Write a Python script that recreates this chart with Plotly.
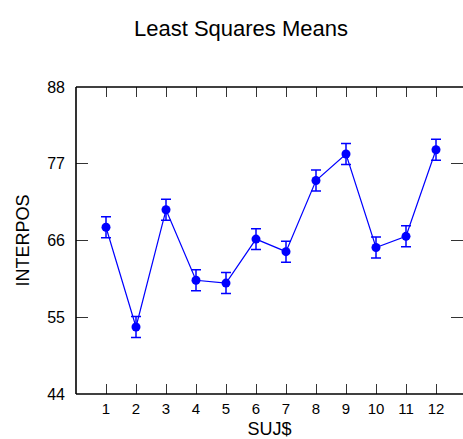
import plotly.graph_objects as go

# Least squares means of INTERPOS for each subject (SUJ$), with standard errors
subjects = [1, 2, 3, 4, 5, 6, 7, 8, 9, 10, 11, 12]
ls_means = [67.9, 53.6, 70.4, 60.3, 59.9, 66.2, 64.4, 74.6, 78.4, 65.0, 66.6, 79.0]
std_err = [1.5, 1.5, 1.5, 1.5, 1.5, 1.5, 1.5, 1.5, 1.5, 1.5, 1.5, 1.5]
y_ticks = [44, 55, 66, 77, 88]

blue = "#0000FF"
font = "Liberation Sans, Arial, sans-serif"

fig = go.Figure(
    go.Scatter(
        x=subjects,
        y=ls_means,
        mode="lines+markers",
        line=dict(color=blue, width=1.2),
        marker=dict(color=blue, size=9, symbol="circle"),
        error_y=dict(type="data", array=std_err, visible=True,
                     color=blue, thickness=1.5, width=5),
        showlegend=False,
    )
)

fig.update_layout(
    width=463,
    height=439,
    margin=dict(l=76, r=0, t=87, b=45),
    paper_bgcolor="white",
    plot_bgcolor="white",
    font=dict(family=font, color="#000000", size=15),
    title=dict(text="Least Squares Means", x=241 / 463, xref="container",
               xanchor="center", y=1 - 28 / 439, yref="container",
               yanchor="middle", font=dict(size=22, family=font)),
)

fig.update_xaxes(
    range=[0, 12.9],
    tickmode="array",
    tickvals=subjects,
    ticktext=[str(s) for s in subjects],
    ticks="inside",
    ticklen=10,
    tickwidth=1,
    tickcolor="#333333",
    mirror="ticks",
    showline=False,
    showgrid=False,
    zeroline=False,
    tickfont=dict(size=15),
    ticklabelstandoff=4,
    title=dict(text="SUJ$", font=dict(size=18), standoff=7),
)

fig.update_yaxes(
    range=[44, 88],
    tickmode="array",
    tickvals=y_ticks,
    ticktext=[str(v) for v in y_ticks],
    ticks="inside",
    ticklen=12,
    tickwidth=1,
    tickcolor="#333333",
    mirror="ticks",
    showline=False,
    showgrid=False,
    zeroline=False,
    tickfont=dict(size=16),
    ticklabelstandoff=10,
    title=dict(text="INTERPOS", font=dict(size=18), standoff=12),
)

# Frame: left, top and bottom edges (right edge runs past the page)
frame = dict(type="line", xref="paper", yref="paper", line=dict(color="#000000", width=1.6))
fig.add_shape(**frame, x0=0, x1=0, y0=0, y1=1)
fig.add_shape(**frame, x0=0, x1=1, y0=1, y1=1)
fig.add_shape(**frame, x0=0, x1=1, y0=0, y1=0)

fig.write_html("out.html")
